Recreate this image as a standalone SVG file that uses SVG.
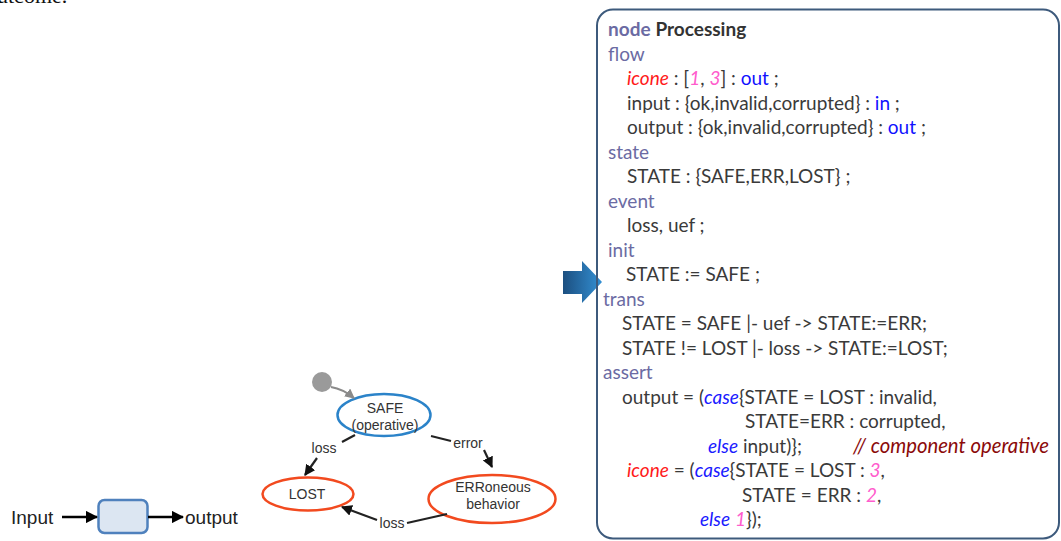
<svg xmlns="http://www.w3.org/2000/svg" width="1061" height="541" viewBox="0 0 1061 541">
  <defs>
    <style>
      .code { font-family: Lato, "Open Sans", sans-serif; font-size: 19px; fill: #3a3a3a; }
      .kw { fill: #6b6ba3; }
      .kwb { fill: #6b6ba3; font-weight: bold; }
      .bold { font-weight: bold; fill: #333333; }
      .var { fill: #ff1a1a; font-style: italic; }
      .num { fill: #ff5ccd; font-style: italic; }
      .dir { fill: #1010ff; }
      .ctl { fill: #1a1aff; font-style: italic; }
      .cmt { fill: #8b0a0a; font-style: italic; font-size: 20.3px; }
      .st { font-family: "Liberation Sans", Arial, sans-serif; font-size: 14px; fill: #333333; text-anchor: middle; }
      .io { font-family: "Liberation Sans", Arial, sans-serif; font-size: 19px; fill: #222222; }
      .edge { fill: none; stroke: #222222; stroke-width: 2.2; }
    </style>
    <marker id="ah" viewBox="0 0 10 10" refX="9" refY="5" markerWidth="5" markerHeight="5" orient="auto" markerUnits="strokeWidth">
      <path d="M0,0 L10,5 L0,10 z" fill="#111111"/>
    </marker>
    <marker id="ahg" viewBox="0 0 10 10" refX="9" refY="5" markerWidth="4.5" markerHeight="4.5" orient="auto" markerUnits="strokeWidth">
      <path d="M0,0 L10,5 L0,10 z" fill="#8a8a8a"/>
    </marker>
    <marker id="ahb" viewBox="0 0 10 10" refX="9" refY="5" markerWidth="4.8" markerHeight="4.8" orient="auto" markerUnits="strokeWidth">
      <path d="M0,0 L10,5 L0,10 z" fill="#000000"/>
    </marker>
    <linearGradient id="blueArrow" x1="0" y1="0" x2="1" y2="0">
      <stop offset="0" stop-color="#1c4f80"/>
      <stop offset="1" stop-color="#3390d4"/>
    </linearGradient>
  </defs>

  <!-- clipped caption fragment at the top edge -->
  <text x="-3" y="2.5" font-family="'Liberation Serif', serif" font-size="22" fill="#111111">utcome.</text>

  <!-- component block with input / output -->
  <g id="input-label"><text class="io" x="11" y="524">Input</text></g>
  <g id="component">
    <rect x="98.5" y="500" width="49" height="33" rx="6" fill="#dce6f2" stroke="#4f81bd" stroke-width="2.5"/>
  </g>
  <g id="output-label"><text class="io" x="185" y="524">output</text></g>

  <!-- state machine of the component -->
  <g id="initial">
    <circle cx="322" cy="382" r="10" fill="#9a9a9a"/>
  </g>
  <g id="state-safe">
    <ellipse cx="384" cy="415" rx="46.5" ry="21" fill="#ffffff" stroke="#2b83c9" stroke-width="2.5"/>
    <text class="st" x="385" y="413">SAFE</text>
    <text class="st" x="385" y="430">(operative)</text>
  </g>
  <g id="state-lost">
    <ellipse cx="308" cy="494" rx="45.5" ry="16.5" fill="#ffffff" stroke="#f24a1f" stroke-width="2.5"/>
    <text class="st" x="307" y="499">LOST</text>
  </g>
  <g id="state-err">
    <ellipse cx="492" cy="499" rx="63.5" ry="24" fill="#ffffff" stroke="#f24a1f" stroke-width="2.5"/>
    <text class="st" x="493" y="492">ERRoneous</text>
    <text class="st" x="493" y="509">behavior</text>
  </g>

  <g id="connectors">
    <!-- block flow -->
    <line x1="62" y1="517" x2="97" y2="517" stroke="#000000" stroke-width="2.6" marker-end="url(#ahb)"/>
    <line x1="148" y1="517" x2="183" y2="517" stroke="#000000" stroke-width="2.6" marker-end="url(#ahb)"/>
    <!-- initial transition -->
    <path d="M331,387 Q343,389 354,398" fill="none" stroke="#8a8a8a" stroke-width="2.2" marker-end="url(#ahg)"/>
    <!-- SAFE to LOST -->
    <path class="edge" d="M355,435 L342,442"/>
    <path class="edge" d="M317,458 L305,475" marker-end="url(#ah)"/>
    <text class="st" x="324" y="453">loss</text>
    <!-- SAFE to ERR -->
    <path class="edge" d="M431,436 L451,441"/>
    <path class="edge" d="M484,450 L492,467" marker-end="url(#ah)"/>
    <text class="st" x="468" y="448">error</text>
    <!-- ERR to LOST -->
    <path class="edge" d="M447,514 L407,523"/>
    <path class="edge" d="M377,520 L342,507" marker-end="url(#ah)"/>
    <text class="st" x="392" y="528">loss</text>
  </g>

  <!-- translation arrow -->
  <g id="arrow">
    <polygon points="563,271 582,271 582,261 602,282 582,303 582,294 563,294" fill="url(#blueArrow)"/>
  </g>

  <!-- textual model of the node -->
  <g id="model">
    <rect x="597" y="9.5" width="462" height="529" rx="16" fill="none" stroke="#3d5a7c" stroke-width="2"/>
    <g class="code">
      <text x="608" y="36"><tspan class="kwb">node</tspan> <tspan class="bold">Processing</tspan></text>
      <text x="608" y="60.5" class="kw">flow</text>
      <text x="627" y="85"><tspan class="var">icone</tspan> : [<tspan class="num">1</tspan>, <tspan class="num">3</tspan>] : <tspan class="dir">out</tspan> ;</text>
      <text x="627" y="109.5">input : {ok,invalid,corrupted} : <tspan class="dir">in</tspan> ;</text>
      <text x="627" y="134">output : {ok,invalid,corrupted} : <tspan class="dir">out</tspan> ;</text>
      <text x="608" y="158.5" class="kw">state</text>
      <text x="627" y="183">STATE : {SAFE,ERR,LOST} ;</text>
      <text x="608" y="207.5" class="kw">event</text>
      <text x="627" y="232">loss, uef ;</text>
      <text x="608" y="256.5" class="kw">init</text>
      <text x="626" y="281">STATE := SAFE ;</text>
      <text x="603" y="305.5" class="kw">trans</text>
      <text x="622" y="330">STATE = SAFE |- uef -&gt; STATE:=ERR;</text>
      <text x="622" y="354.5">STATE != LOST |- loss -&gt; STATE:=LOST;</text>
      <text x="603" y="379" class="kw">assert</text>
      <text x="622" y="403.5">output = (<tspan class="ctl">case</tspan>{STATE = LOST : invalid,</text>
      <text x="745" y="428">STATE=ERR : corrupted,</text>
      <text x="708" y="452.5"><tspan class="ctl">else</tspan> input)};</text>
      <text x="853" y="452.5" class="cmt">// component operative</text>
      <text x="627" y="477"><tspan class="var">icone</tspan> = (<tspan class="ctl">case</tspan>{STATE = LOST : <tspan class="num">3</tspan>,</text>
      <text x="742" y="501.5">STATE = ERR : <tspan class="num">2</tspan>,</text>
      <text x="700" y="526"><tspan class="ctl">else</tspan> <tspan class="num">1</tspan>});</text>
    </g>
  </g>
</svg>
